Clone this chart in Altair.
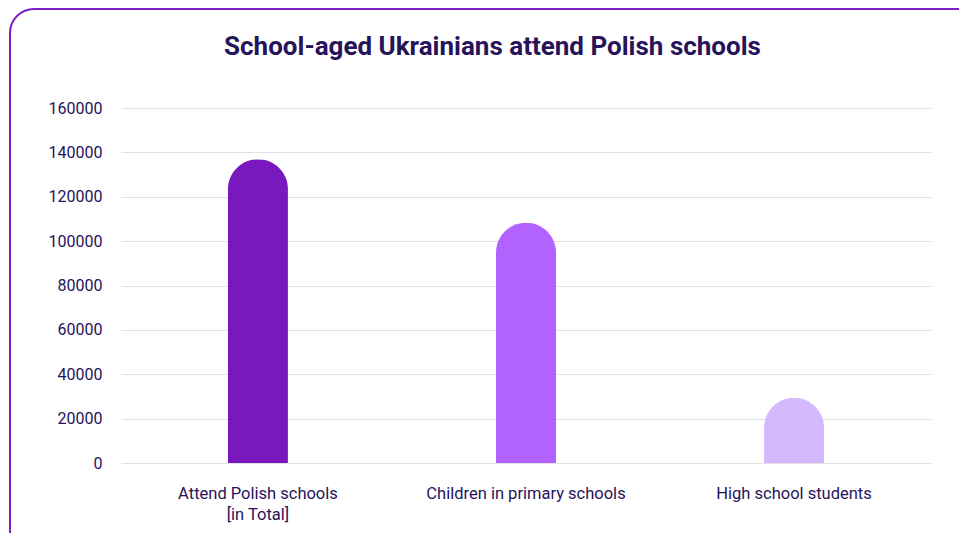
import altair as alt
import pandas as pd

categories = ["Attend Polish schools\n[in Total]", "Children in primary schools", "High school students"]
values = [136900, 108300, 29400]
bar_colors = ["#7918bd", "#b263ff", "#d5b9ff"]
y_ticks = [0, 20000, 40000, 60000, 80000, 100000, 120000, 140000, 160000]
title_text = "School-aged Ukrainians attend Polish schools"

df = pd.DataFrame({"category": categories, "value": values})

W, H = 810, 355
TEXT = "#27135a"
FONT = "Roboto"

border = alt.Chart(alt.Data(values=[{"b": 1}])).mark_rect(
    fillOpacity=0, stroke="#7b1fc6", strokeWidth=2, cornerRadius=24
).encode(
    x=alt.value(-111), x2=alt.value(W + 50),
    y=alt.value(-99), y2=alt.value(H + 95)
)

bars = alt.Chart(df).mark_bar(
    size=60, cornerRadiusTopLeft=30, cornerRadiusTopRight=30
).encode(
    x=alt.X("category:N", sort=categories,
            scale=alt.Scale(paddingInner=0, paddingOuter=0.011),
            axis=alt.Axis(title=None, labelAngle=0, domain=False, ticks=False,
                          labelPadding=22, labelFont=FONT, labelFontSize=16.5,
                          labelColor=TEXT, labelLineHeight=21, labelLimit=400,
                          labelExpr="split(datum.label, '\\n')", grid=False)),
    y=alt.Y("value:Q", scale=alt.Scale(domain=[0, 160000], nice=False),
            axis=alt.Axis(title=None, values=y_ticks, format="d", domain=False,
                          ticks=False, labelPadding=19, labelFont=FONT,
                          labelFontSize=16, labelColor=TEXT,
                          gridColor="#e2e2e2", gridWidth=1)),
    color=alt.Color("category:N", sort=categories,
                    scale=alt.Scale(domain=categories, range=bar_colors),
                    legend=None),
)

chart = alt.layer(border, bars).properties(
    width=W, height=H,
    background="white",
    title=alt.TitleParams(title_text, font=FONT, fontSize=26, fontWeight="bold",
                          color=TEXT, anchor="middle", frame="bounds",
                          baseline="alphabetic", offset=-73, dx=-3),
    autosize=alt.AutoSizeParams(type="none"),
    padding={"left": 113, "top": 100, "right": 28, "bottom": 70},
).configure_view(stroke="transparent", strokeWidth=0)

chart.save("out.html", embed_options={"renderer": "svg", "actions": False})
